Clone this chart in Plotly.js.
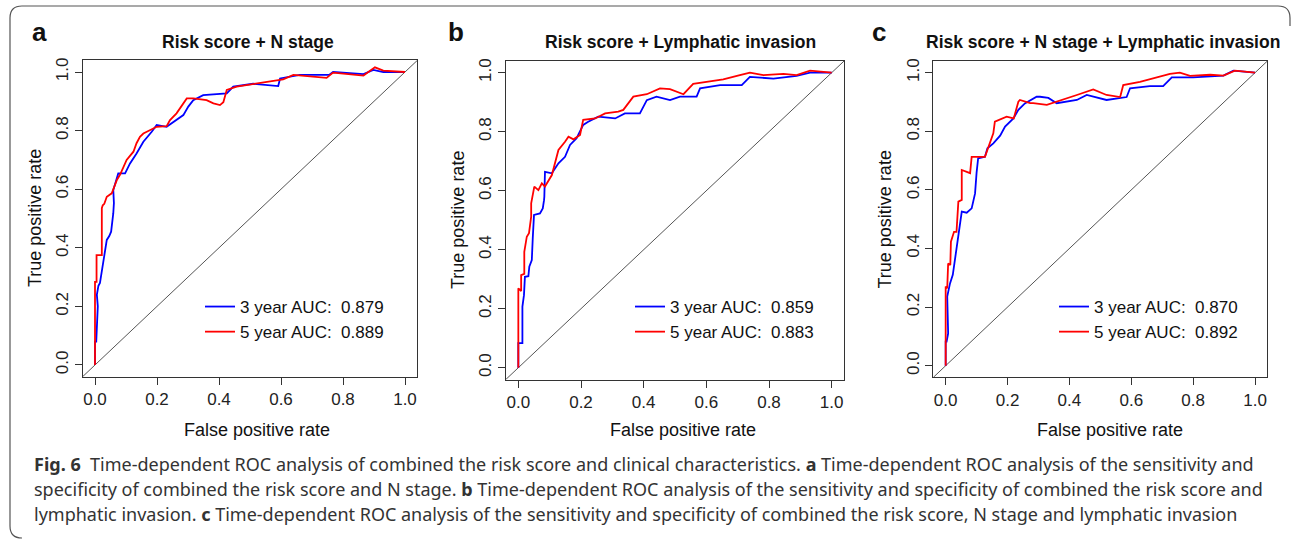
<!DOCTYPE html>
<html>
<head>
<meta charset="utf-8">
<script src="https://cdn.plot.ly/plotly-3.0.1.min.js"></script>
<style>
  html, body { margin: 0; padding: 0; background: #fff; }
  #chart { width: 1293px; height: 539px; }
</style>
</head>
<body>
<div id="chart"></div>
<script>
// ---------------- data ----------------
const panelLetters = ['a', 'b', 'c'];
const panelTitles = ['Risk score + N stage', 'Risk score + Lymphatic invasion', 'Risk score + N stage + Lymphatic invasion'];
const seriesNames = ['3 year', '5 year'];
const auc3 = [0.879, 0.859, 0.870];
const auc5 = [0.889, 0.883, 0.892];
const tickVals = [0, 0.2, 0.4, 0.6, 0.8, 1.0];
const tickLabels = ['0.0', '0.2', '0.4', '0.6', '0.8', '1.0'];
const xTitle = 'False positive rate';
const yTitle = 'True positive rate';

// Panel a
const a3x = [0,0,0.004,0.006,0.009,0.006,0.011,0.016,0.022,0.029,0.038,0.046,0.052,0.059,0.061,0.059,0.068,0.075,0.097,0.113,0.134,0.156,0.183,0.199,0.231,0.253,0.285,0.301,0.317,0.349,0.36,0.403,0.425,0.446,0.51,0.591,0.597,0.661,0.755,0.768,0.866,0.898,0.93,1.0];
const a3y = [0,0.08,0.08,0.17,0.2,0.24,0.27,0.28,0.318,0.37,0.427,0.44,0.455,0.518,0.553,0.597,0.63,0.654,0.654,0.688,0.722,0.762,0.796,0.819,0.813,0.83,0.853,0.882,0.904,0.921,0.922,0.927,0.927,0.95,0.96,0.952,0.978,0.99,0.99,1.0,0.993,1.007,1.0,1.0];
const a5x = [0,0,0.005,0.005,0.022,0.022,0.025,0.03,0.038,0.054,0.07,0.081,0.102,0.124,0.134,0.145,0.156,0.199,0.231,0.242,0.263,0.285,0.296,0.317,0.349,0.36,0.382,0.403,0.414,0.425,0.457,0.468,0.554,0.607,0.64,0.747,0.768,0.866,0.903,0.93,1.0];
const a5y = [0,0.284,0.284,0.375,0.375,0.535,0.545,0.55,0.574,0.586,0.63,0.65,0.70,0.728,0.757,0.779,0.79,0.813,0.815,0.836,0.859,0.893,0.91,0.91,0.904,0.904,0.893,0.887,0.897,0.939,0.95,0.952,0.967,0.975,0.99,0.98,0.998,0.988,1.016,1.005,1.0];
// Panel b
const b3x = [0,0,0.005,0.013,0.013,0.018,0.021,0.032,0.035,0.043,0.046,0.05,0.069,0.078,0.082,0.083,0.085,0.107,0.128,0.149,0.165,0.186,0.207,0.223,0.255,0.309,0.34,0.388,0.41,0.441,0.484,0.516,0.569,0.58,0.644,0.713,0.739,0.814,0.888,0.931,1.0];
const b3y = [0,0.083,0.083,0.083,0.207,0.246,0.308,0.31,0.342,0.365,0.439,0.518,0.523,0.54,0.568,0.58,0.664,0.659,0.693,0.715,0.755,0.778,0.823,0.834,0.851,0.845,0.862,0.862,0.907,0.919,0.907,0.919,0.919,0.947,0.958,0.958,0.986,0.98,0.989,1.0,1.0];
const b5x = [0,0,0.009,0.009,0.019,0.019,0.019,0.027,0.034,0.041,0.041,0.051,0.064,0.075,0.085,0.107,0.117,0.128,0.149,0.16,0.176,0.197,0.207,0.245,0.277,0.319,0.335,0.367,0.41,0.452,0.484,0.527,0.558,0.601,0.654,0.707,0.739,0.782,0.846,0.888,0.931,1.0];
const b5y = [0,0.269,0.26,0.314,0.318,0.365,0.393,0.444,0.456,0.512,0.557,0.614,0.602,0.625,0.614,0.653,0.693,0.738,0.766,0.783,0.774,0.789,0.84,0.845,0.862,0.868,0.874,0.919,0.927,0.947,0.944,0.927,0.962,0.969,0.977,0.992,1.0,0.992,0.996,0.992,1.007,1.0];
// Panel c
const c3x = [0,0,0.003,0.008,0.005,0.014,0.023,0.03,0.038,0.044,0.052,0.068,0.084,0.089,0.095,0.1,0.105,0.127,0.135,0.154,0.176,0.192,0.219,0.235,0.256,0.294,0.305,0.332,0.359,0.424,0.456,0.52,0.585,0.596,0.66,0.703,0.731,0.8,0.898,0.93,1.0];
const c3y = [0,0.082,0.082,0.11,0.236,0.281,0.31,0.361,0.429,0.48,0.526,0.522,0.537,0.56,0.588,0.66,0.708,0.713,0.742,0.759,0.785,0.816,0.844,0.873,0.895,0.918,0.918,0.914,0.896,0.907,0.924,0.907,0.917,0.947,0.954,0.954,0.984,0.984,0.99,1.007,1.0];
const c5x = [0,0,0.005,0.008,0.015,0.017,0.027,0.035,0.041,0.052,0.052,0.079,0.084,0.127,0.154,0.159,0.197,0.22,0.235,0.24,0.273,0.283,0.327,0.38,0.424,0.477,0.52,0.564,0.574,0.628,0.671,0.725,0.757,0.79,0.855,0.898,0.935,1.0];
const c5y = [0,0.27,0.264,0.349,0.344,0.423,0.457,0.457,0.56,0.566,0.668,0.657,0.713,0.713,0.793,0.833,0.85,0.844,0.901,0.907,0.896,0.896,0.89,0.91,0.924,0.943,0.924,0.917,0.958,0.969,0.98,0.996,1.0,0.989,0.993,0.99,1.007,1.0];

const diagX = [-0.04, 1.04];
const diagY = [-0.04, 1.04];

const captionLines = [
  '<b>Fig. 6</b>  Time-dependent ROC analysis of combined the risk score and clinical characteristics. <b>a</b> Time-dependent ROC analysis of the sensitivity and',
  'specificity of combined the risk score and N stage. <b>b</b> Time-dependent ROC analysis of the sensitivity and specificity of combined the risk score and',
  'lymphatic invasion. <b>c</b> Time-dependent ROC analysis of the sensitivity and specificity of combined the risk score, N stage and lymphatic invasion'
];

// ---------------- layout helpers ----------------
const W = 1293, H = 539;
const px = v => v / W;
const py = v => 1 - v / H;
// plot boxes in pixels: [left, right, top, bottom]
const boxes = [
  [82.6, 417.4, 60.3, 376.7],
  [505.8, 844.2, 60.9, 379.5],
  [933.3, 1267.4, 61.0, 377.4]
];
const titleCx = [247.5, 680, 1103];
const xTitleCx = [257, 683, 1110];
const letterCx = [39, 456, 879];
const legendLineX = [205, 635, 1059];

const curves = [[a3x, a3y, a5x, a5y], [b3x, b3y, b5x, b5y], [c3x, c3y, c5x, c5y]];
const colors = ['#0000FF', '#FF0000'];
const FONT = 'Liberation Sans, Arial, sans-serif';

const traces = [];
const layout = {
  width: W, height: H,
  margin: {l: 0, r: 0, t: 0, b: 0},
  paper_bgcolor: '#ffffff',
  plot_bgcolor: '#ffffff',
  showlegend: true,
  annotations: [],
  shapes: []
};

for (let i = 0; i < 3; i++) {
  const sfx = i === 0 ? '' : String(i + 1);
  const xa = 'x' + sfx, ya = 'y' + sfx;
  const leg = i === 0 ? 'legend' : 'legend' + (i + 1);
  const [x3, y3, x5, y5] = curves[i];
  traces.push({x: diagX, y: diagY, xaxis: xa, yaxis: ya, mode: 'lines',
    line: {color: '#555555', width: 1}, showlegend: false, hoverinfo: 'skip'});
  traces.push({x: x3, y: y3, xaxis: xa, yaxis: ya, mode: 'lines',
    line: {color: colors[0], width: 1.8}, name: seriesNames[0] + ' AUC:&nbsp; ' + auc3[i].toFixed(3), legend: leg});
  traces.push({x: x5, y: y5, xaxis: xa, yaxis: ya, mode: 'lines',
    line: {color: colors[1], width: 1.8}, name: seriesNames[1] + ' AUC:&nbsp; ' + auc5[i].toFixed(3), legend: leg});

  const b = boxes[i];
  const axCommon = {
    range: [-0.04, 1.04], showgrid: false, zeroline: false,
    showline: true, mirror: true, linecolor: '#333333', linewidth: 1,
    ticks: 'outside', ticklen: 7, tickcolor: '#333333', tickwidth: 1,
    tickmode: 'array', tickvals: tickVals, ticktext: tickLabels,
    tickfont: {family: FONT, size: 17, color: '#222222'},
    fixedrange: true
  };
  layout['xaxis' + sfx] = Object.assign({}, axCommon, {domain: [px(b[0]), px(b[1])], anchor: ya});
  layout['yaxis' + sfx] = Object.assign({}, axCommon, {domain: [py(b[3]), py(b[2])], anchor: xa, tickangle: -90});

  layout[leg] = {
    x: px(legendLineX[i] - 5), xanchor: 'left',
    y: py(289), yanchor: 'top',
    bgcolor: 'rgba(0,0,0,0)', borderwidth: 0,
    font: {family: FONT, size: 17, color: '#111111'},
    tracegroupgap: 0
  };

  // title
  layout.annotations.push({text: '<b>' + panelTitles[i] + '</b>', x: px(titleCx[i]), y: py(42),
    xref: 'paper', yref: 'paper', xanchor: 'center', yanchor: 'middle', showarrow: false,
    font: {family: FONT, size: 17.5, color: '#111111'}});
  // panel letter
  layout.annotations.push({text: '<b>' + panelLetters[i] + '</b>', x: px(letterCx[i]), y: py(32),
    xref: 'paper', yref: 'paper', xanchor: 'center', yanchor: 'middle', showarrow: false,
    font: {family: FONT, size: 26, color: '#111111'}});
  // x title
  layout.annotations.push({text: xTitle, x: px(xTitleCx[i]), y: py(430),
    xref: 'paper', yref: 'paper', xanchor: 'center', yanchor: 'middle', showarrow: false,
    font: {family: FONT, size: 18, color: '#111111'}});
  // y title
  layout.annotations.push({text: yTitle, x: px(b[0] - 48), y: py((b[2] + b[3]) / 2),
    xref: 'paper', yref: 'paper', xanchor: 'center', yanchor: 'middle', showarrow: false, textangle: -90,
    font: {family: FONT, size: 18, color: '#111111'}});
}

// caption
const capY = [464, 489, 514];
captionLines.forEach((t, k) => {
  layout.annotations.push({text: t, x: px(32), y: py(capY[k]), xref: 'paper', yref: 'paper',
    xanchor: 'left', yanchor: 'middle', showarrow: false, align: 'left',
    font: {family: 'Noto Sans, Open Sans, sans-serif', size: 18, color: '#333333'}});
});

// outer rounded frame
const fp = (x, y) => px(x).toFixed(5) + ',' + py(y).toFixed(5);
layout.shapes.push({type: 'path', xref: 'paper', yref: 'paper',
  path: 'M' + fp(22, 538) + ' Q' + fp(10, 538) + ' ' + fp(10, 526) +
        ' L' + fp(10, 18) + ' Q' + fp(10, 6) + ' ' + fp(22, 6) +
        ' L' + fp(1278, 6) + ' Q' + fp(1290, 6) + ' ' + fp(1290, 18) +
        ' L' + fp(1290, 26),
  line: {color: '#555555', width: 1.2}});

Plotly.newPlot('chart', traces, layout, {displayModeBar: false, staticPlot: true});
</script>
</body>
</html>
